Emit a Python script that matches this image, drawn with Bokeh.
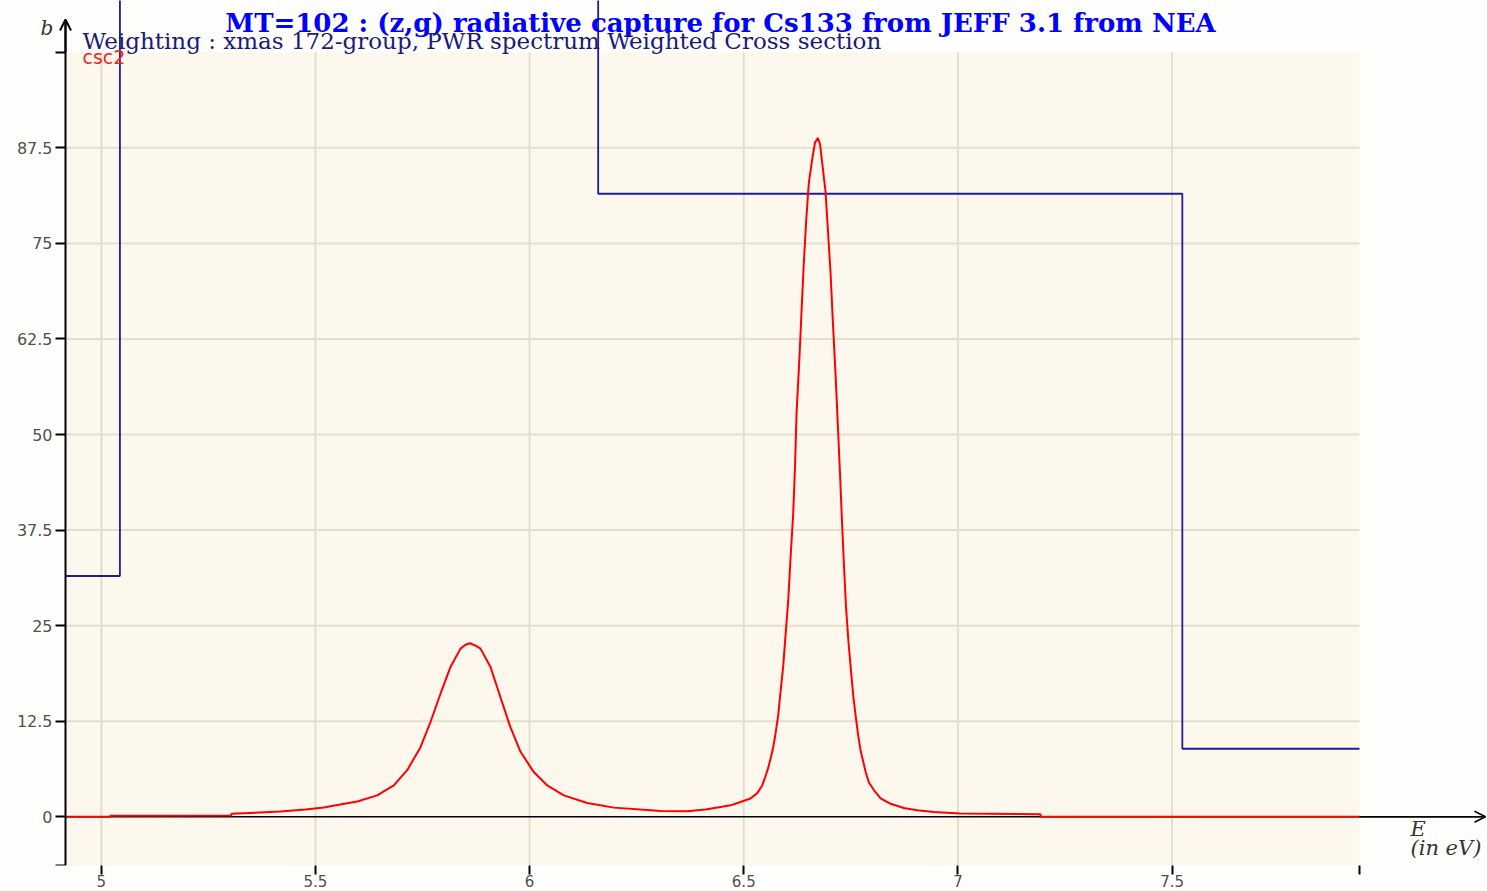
from bokeh.plotting import figure
from bokeh.models import (Range1d, LinearAxis, FixedTicker, Label, Arrow, OpenHead)
from bokeh.embed import file_html
from bokeh.resources import INLINE

TITLE = "MT=102 : (z,g) radiative capture for Cs133 from JEFF 3.1 from NEA"
SUBTITLE = "Weighting : xmas 172-group, PWR spectrum Weighted Cross section"
SERIES_NAME = "csc2"
X_LABEL_1 = "E"
X_LABEL_2 = "(in eV)"
Y_LABEL = "b"

# pointwise capture cross section (barns) versus energy (eV)
energy = [4.9164, 5.021, 5.021, 5.303, 5.304, 5.4184, 5.4768, 5.5195, 5.5508, 5.5975,
          5.6442, 5.6829, 5.7142, 5.7453, 5.7686, 5.7920, 5.8153, 5.8387, 5.8503, 5.8604,
          5.8737, 5.8854,
          5.9087, 5.9321, 5.9554, 5.9788, 6.0098, 6.0411, 6.0799, 6.1345, 6.1966, 6.2590,
          6.3057, 6.3678, 6.4107, 6.4458, 6.4691, 6.4924, 6.5158, 6.5314, 6.5431, 6.5508,
          6.5571, 6.5625, 6.5688, 6.5742, 6.5805, 6.5858, 6.5921, 6.5975, 6.6038, 6.6092,
          6.6155, 6.6197, 6.6232, 6.6295, 6.6349, 6.6402, 6.6458, 6.6519, 6.6598, 6.6664,
          6.6729, 6.6781, 6.6832, 6.6909, 6.6963, 6.7026, 6.7080, 6.7143, 6.7197, 6.7248,
          6.7295, 6.7341, 6.7388, 6.7446, 6.7505, 6.7563, 6.7622, 6.7673, 6.7727, 6.7790,
          6.7844, 6.7921, 6.8038, 6.8195, 6.8428, 6.8737, 6.9050, 6.9438, 7.0061, 7.1929,
          7.1929, 7.9377]
sigma = [0.0, 0.0, 0.15, 0.17, 0.39, 0.68, 0.95, 1.22, 1.55, 2.0,
         2.8, 4.1, 6.1, 9.1, 12.4, 16.1, 19.6, 22.0, 22.5, 22.7,
         22.4, 22.0,
         19.6, 15.6, 11.7, 8.5, 5.85, 4.1, 2.8, 1.8, 1.2, 0.94,
         0.76, 0.74, 0.95, 1.28, 1.5, 1.93, 2.4, 3.1, 4.1, 5.3,
         6.4, 7.6, 9.1, 10.9, 13.3, 16.3, 19.7, 23.7, 28.3, 33.8,
         39.7, 45.8, 52.7, 59.5, 66.1, 72.4, 78.0, 82.9, 86.0, 88.2,
         88.8, 88.0, 85.5, 81.8, 76.9, 71.2, 64.8, 57.9, 51.2, 44.8,
         38.5, 32.7, 27.4, 22.8, 19.0, 15.5, 12.8, 10.6, 8.7, 7.2,
         5.9, 4.5, 3.5, 2.4, 1.7, 1.15, 0.85, 0.63, 0.42, 0.33,
         0.0, 0.0]

# XMAS 172-group weighted cross section (group edges in eV, values in barns)
group_edges = [4.9164, 5.0435, 6.1601, 7.5240, 7.9377]
group_values = [31.5, 140.0, 81.5, 8.9]

x_ticks = [5, 5.5, 6, 6.5, 7, 7.5]
x_tick_labels = ["5", "5.5", "6", "6.5", "7", "7.5"]
y_ticks = [0, 12.5, 25, 37.5, 50, 62.5, 75, 87.5]
y_tick_labels = ["0", "12.5", "25", "37.5", "50", "62.5", "75", "87.5"]

E_MIN, E_MAX = 4.9164, 7.9377
S_MIN, S_MAX = -6.37, 100.0

W, H = 1487, 891
AXIS_PX = 65          # pixel column of the vertical axis
BOTTOM = 26
PX_PER_EV = 428.3
PX_PER_B = 7.645
FRAME_H = H - BOTTOM

x_start = E_MIN - AXIS_PX / PX_PER_EV
x_end = x_start + W / PX_PER_EV
y_end = S_MIN + FRAME_H / PX_PER_B
LBL_SHIFT = 9  # label baseline correction (px)


def px2x(px):
    return x_start + px / PX_PER_EV


def px2y(py):
    return S_MIN + (FRAME_H - (py - LBL_SHIFT)) / PX_PER_B


p = figure(width=W, height=H, x_range=Range1d(x_start, x_end), y_range=Range1d(S_MIN, y_end),
           output_backend="svg", toolbar_location=None,
           x_axis_type=None, y_axis_type=None,
           min_border_left=0, min_border_right=0, min_border_top=0, min_border_bottom=BOTTOM,
           background_fill_color="#FEFEFC", border_fill_color="#FEFEFC", outline_line_color=None)
p.xgrid.visible = False
p.ygrid.visible = False

# plot area background
p.quad(left=[E_MIN], right=[E_MAX], bottom=[S_MIN], top=[S_MAX],
       fill_color="#FDF8EE", line_color=None)

# grid lines
GRID = "#E3DFCF"
p.segment(x0=x_ticks, y0=[S_MIN] * len(x_ticks), x1=x_ticks, y1=[S_MAX] * len(x_ticks),
          line_color=GRID, line_width=2)
p.segment(x0=[E_MIN] * (len(y_ticks) - 1), y0=y_ticks[1:], x1=[E_MAX] * (len(y_ticks) - 1),
          y1=y_ticks[1:], line_color=GRID, line_width=2)

# zero axis line with arrow
p.segment(x0=[E_MIN], y0=[0], x1=[px2x(1484)], y1=[0], line_color="black", line_width=1.6)
p.add_layout(Arrow(end=OpenHead(size=11, line_width=1.6, line_color="black"),
                   x_start=E_MAX, y_start=0, x_end=px2x(1485), y_end=0,
                   line_color="black", line_width=1.6))

# group-wise weighted cross section
p.step(x=group_edges, y=group_values + [group_values[-1]], mode="after",
       line_color="#1E1E8E", line_width=1.8)

# pointwise cross section
p.line(x=energy, y=sigma, line_color="#FF0000", line_width=2)

# axes
yaxis = LinearAxis(ticker=FixedTicker(ticks=y_ticks + [S_MAX, S_MIN]),
                   fixed_location=E_MIN,
                   bounds=(S_MIN, S_MIN + (FRAME_H - 21) / PX_PER_B),
                   major_label_overrides={**{t: l for t, l in zip(y_ticks, y_tick_labels)},
                                          S_MAX: "", S_MIN: ""},
                   axis_line_color="black", axis_line_width=2,
                   major_tick_line_color="black", major_tick_line_width=2,
                   major_tick_out=10, major_tick_in=0, minor_tick_out=0, minor_tick_in=0,
                   major_label_standoff=3, major_label_text_font="DejaVu Sans",
                   major_label_text_font_size="16px", major_label_text_color="#505050")
p.add_layout(yaxis, "left")
p.add_layout(Arrow(end=OpenHead(size=11, line_width=2, line_color="black"),
                   x_start=E_MIN, y_start=S_MAX, x_end=E_MIN,
                   y_end=S_MIN + (FRAME_H - 19) / PX_PER_B,
                   line_color="black", line_width=2))

xaxis = LinearAxis(ticker=FixedTicker(ticks=x_ticks + [E_MAX]),
                   bounds=(E_MIN, E_MAX),
                   major_label_overrides={**{t: l for t, l in zip(x_ticks, x_tick_labels)},
                                          E_MAX: ""},
                   axis_line_color=None,
                   major_tick_line_color="black", major_tick_line_width=2,
                   major_tick_out=9, major_tick_in=0, minor_tick_out=0, minor_tick_in=0,
                   major_label_standoff=0, major_label_text_font="DejaVu Sans",
                   major_label_text_font_size="15px", major_label_text_color="#505050")
p.add_layout(xaxis, "below")

# texts
p.add_layout(Label(x=px2x(720), y=px2y(31), text=TITLE, text_align="center",
                   text_baseline="alphabetic", text_font="DejaVu Serif",
                   text_font_style="bold", text_font_size="26px", text_color="#0000FF"))
p.add_layout(Label(x=px2x(82), y=px2y(49), text=SUBTITLE, text_align="left",
                   text_baseline="alphabetic", text_font="DejaVu Serif",
                   text_font_size="23px", text_color="#1B1B78"))
p.add_layout(Label(x=px2x(82), y=px2y(65), text=SERIES_NAME, text_align="left",
                   text_baseline="alphabetic", text_font="DejaVu Sans",
                   text_font_size="19px", text_color="#FF2020"))
p.add_layout(Label(x=px2x(40), y=px2y(36), text=Y_LABEL, text_align="left",
                   text_baseline="alphabetic", text_font="DejaVu Serif",
                   text_font_style="italic", text_font_size="20px", text_color="#333333"))
p.add_layout(Label(x=px2x(1410), y=px2y(837), text=X_LABEL_1, text_align="left",
                   text_baseline="alphabetic", text_font="DejaVu Serif",
                   text_font_style="italic", text_font_size="21px", text_color="#333333"))
p.add_layout(Label(x=px2x(1410), y=px2y(856), text=X_LABEL_2, text_align="left",
                   text_baseline="alphabetic", text_font="DejaVu Serif",
                   text_font_style="italic", text_font_size="21px", text_color="#333333"))

open("out.html", "w").write(file_html(p, INLINE))
